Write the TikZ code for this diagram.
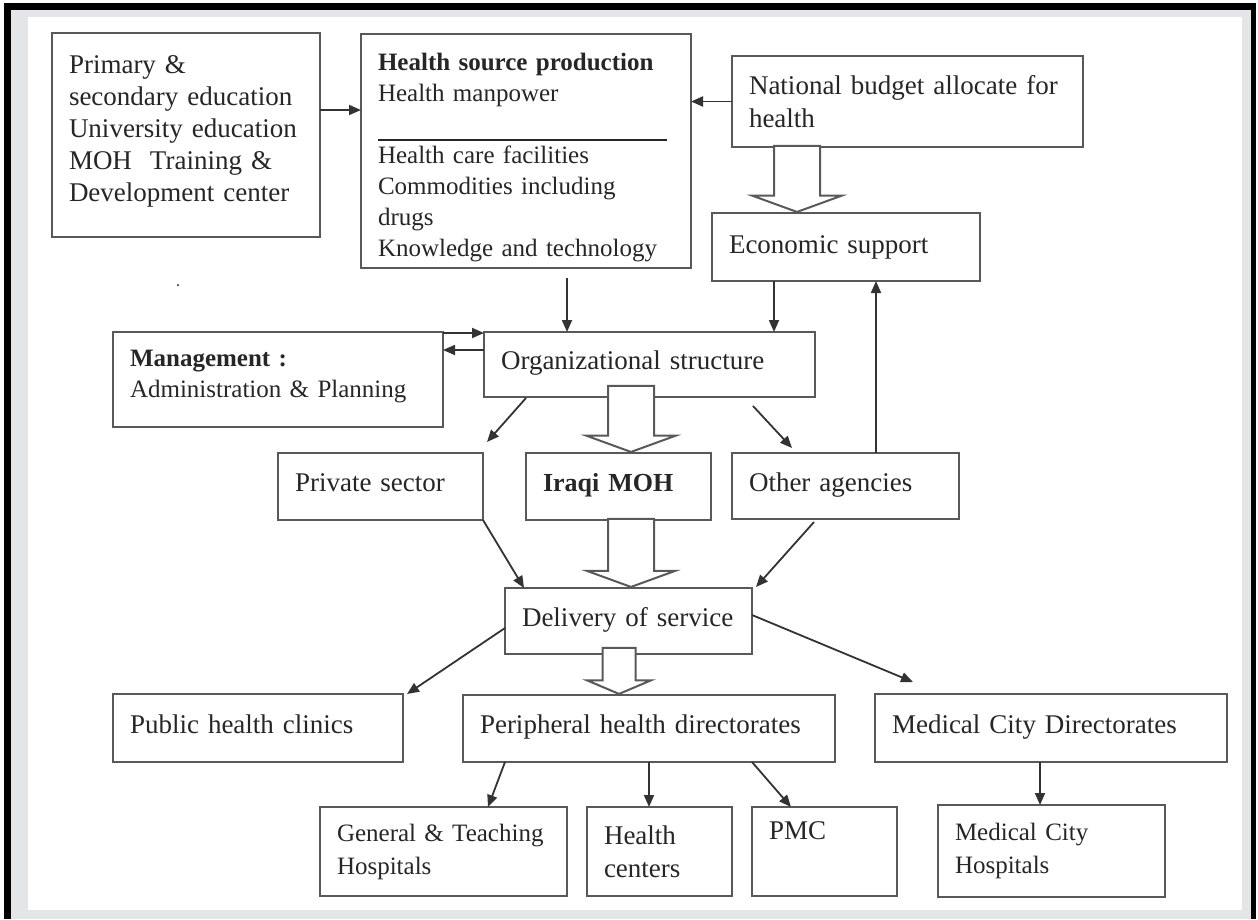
\documentclass[tikz,border=0pt]{standalone}
\usepackage{fontspec}
\setmainfont{Liberation Serif}
\usetikzlibrary{arrows.meta,shapes.arrows}
\definecolor{framegray}{HTML}{E4E5E7}

\begin{document}
\begin{tikzpicture}[x=1pt,y=-1pt]
    \tikzstyle{box}=[draw=black!65,line width=2.4pt,anchor=north west,outer sep=0pt,inner xsep=17pt,inner ysep=0pt,align=left,text=black!85,font=\fontsize{27}{31}\selectfont]
    \tikzstyle{small}=[font=\fontsize{25}{31}\selectfont]
    \tikzstyle{oneline}=[text height=20pt,text depth=10pt]
    \tikzstyle{conn}=[draw=black!80,line width=1.8pt,-{Triangle[length=12pt,width=10pt]}]
    \tikzstyle{bigarrow}=[single arrow,draw=black!65,line width=2pt,fill=white,rotate=-90,anchor=tip,inner xsep=0pt,inner ysep=22pt,single arrow tip angle=140,single arrow head extend=21.5pt]
    \useasboundingbox (0,0) rectangle (1258,919);
    \fill[black] (4,3) rectangle (1256,919);
    \fill[framegray] (11,10) rectangle (1251,919);
    \fill[white] (28,17) rectangle (1242,910);
    \node[box,font=\fontsize{27}{32}\selectfont,minimum width=268pt,minimum height=204pt,text width=234pt] (edu) at (52,33) {Primary \&\\secondary education\\University education\\MOH~ Training \&\\Development center\rule[-12pt]{0pt}{12pt}};
    \node[box,small,minimum width=330pt,minimum height=234pt,text width=296pt] (hsp) at (361,34) {\rule{0pt}{31pt}\textbf{Health source production}\\Health manpower\\\rule[-8pt]{289pt}{2pt}\\Health care facilities\\Commodities including\\drugs\\Knowledge and technology};
    \node[box,font=\fontsize{27}{33}\selectfont,minimum width=351pt,minimum height=91pt,text width=317pt] (budget) at (732,56) {National budget allocate for\\health};
    \node[box,minimum width=268pt,minimum height=68pt,text width=234pt] (econ) at (712,213) {Economic support};
    \node[box,small,minimum width=330pt,minimum height=95pt,text width=296pt] (mgmt) at (113,332) {\textbf{Management :}\\Administration \& Planning\rule[-11pt]{0pt}{11pt}};
    \node[box,oneline,minimum width=331pt,minimum height=65pt,text width=297pt] (org) at (484,332) {Organizational structure};
    \node[box,oneline,minimum width=205pt,minimum height=67pt,text width=171pt] (priv) at (278,453) {Private sector};
    \node[box,oneline,minimum width=185pt,minimum height=67pt,text width=151pt] (moh) at (526,453) {\textbf{\fontsize{26}{31}\selectfont Iraqi MOH}};
    \node[box,oneline,minimum width=227pt,minimum height=66pt,text width=193pt] (other) at (732,453) {Other agencies};
    \node[box,oneline,minimum width=247pt,minimum height=66pt,text width=213pt] (deliv) at (505,588) {Delivery of service};
    \node[box,oneline,minimum width=290pt,minimum height=68pt,text width=256pt] (public) at (113,694) {Public health clinics};
    \node[box,oneline,minimum width=372pt,minimum height=67pt,text width=338pt] (periph) at (463,695) {Peripheral health directorates};
    \node[box,oneline,minimum width=352pt,minimum height=68pt,text width=318pt] (meddir) at (875,694) {Medical City Directorates};
    \node[box,font=\fontsize{25}{33}\selectfont,minimum width=247pt,minimum height=89pt,text width=213pt] (general) at (320,807) {General \& Teaching\\Hospitals};
    \node[box,font=\fontsize{27}{33}\selectfont,minimum width=145pt,minimum height=89pt,text width=111pt] (hcent) at (587,807) {Health\\centers};
    \node[box,font=\fontsize{27}{33}\selectfont,minimum width=145pt,minimum height=89pt,text width=111pt] (pmc) at (752,807) {PMC\\\strut};
    \node[box,font=\fontsize{25}{33}\selectfont,minimum width=227pt,minimum height=92pt,text width=193pt] (medhosp) at (938,805) {Medical City\\Hospitals};
    \node[text=black!60,font=\fontsize{20}{20}\selectfont] (dot) at (178,286) {.};
    \node[bigarrow,minimum height=66pt] (ba1) at ([xshift=-49pt]econ.north) {};
    \node[bigarrow,minimum height=66pt] (ba2) at ([xshift=12.5pt]moh.north) {};
    \node[bigarrow,minimum height=68pt] (ba3) at ([xshift=2.5pt]deliv.north) {};
    \node[bigarrow,minimum height=46pt,inner ysep=15.5pt,single arrow head extend=15.5pt,single arrow tip angle=134] (ba4) at ([xshift=-30pt]periph.north) {};
    \draw[conn] ([yshift=25pt]edu.east) -- ([yshift=25pt]edu.east -| hsp.west);
    \draw[conn] (budget.west) -- (budget.west -| hsp.east);
    \draw[conn] ([xshift=41pt,yshift=-10pt]hsp.south) -- ([xshift=41pt]hsp.south |- org.north);
    \draw[conn] ([xshift=-72pt]econ.south) -- ([xshift=-72pt]econ.south |- org.north);
    \draw[conn] ([xshift=30.5pt]other.north) -- ([xshift=30.5pt]other.north |- econ.south);
    \draw[conn] ([yshift=-1pt]mgmt.north east) -- ([yshift=-1pt]org.north west);
    \draw[conn] ([yshift=14.5pt]org.west) -- ([yshift=14.5pt]org.west -| mgmt.east);
    \draw[conn] ([xshift=42pt,yshift=-1pt]org.south west) -- ([xshift=4pt,yshift=11pt]priv.north east);
    \draw[conn] ([xshift=-62pt,yshift=-9pt]org.south east) -- ([xshift=-53.5pt,yshift=5pt]other.north);
    \draw[conn] (priv.south east) -- ([xshift=19pt]deliv.north west);
    \draw[conn] ([xshift=-31.5pt,yshift=-3pt]other.south) -- ([xshift=4pt,yshift=1pt]deliv.north east);
    \draw[conn] ([yshift=-7pt]deliv.west) -- ([xshift=4pt]public.north east);
    \draw[conn] ([yshift=6pt]deliv.east) -- ([xshift=38pt,yshift=12pt]meddir.north west);
    \draw[conn] ([xshift=42pt]periph.south west) -- ([xshift=44.5pt]general.north);
    \draw[conn] (periph.south) -- (periph.south |- hcent.north);
    \draw[conn] ([xshift=-83pt]periph.south east) -- ([xshift=-33.5pt]pmc.north);
    \draw[conn] ([xshift=-11pt]meddir.south) -- ([xshift=-11pt]meddir.south |- medhosp.north);
\end{tikzpicture}
\end{document}
